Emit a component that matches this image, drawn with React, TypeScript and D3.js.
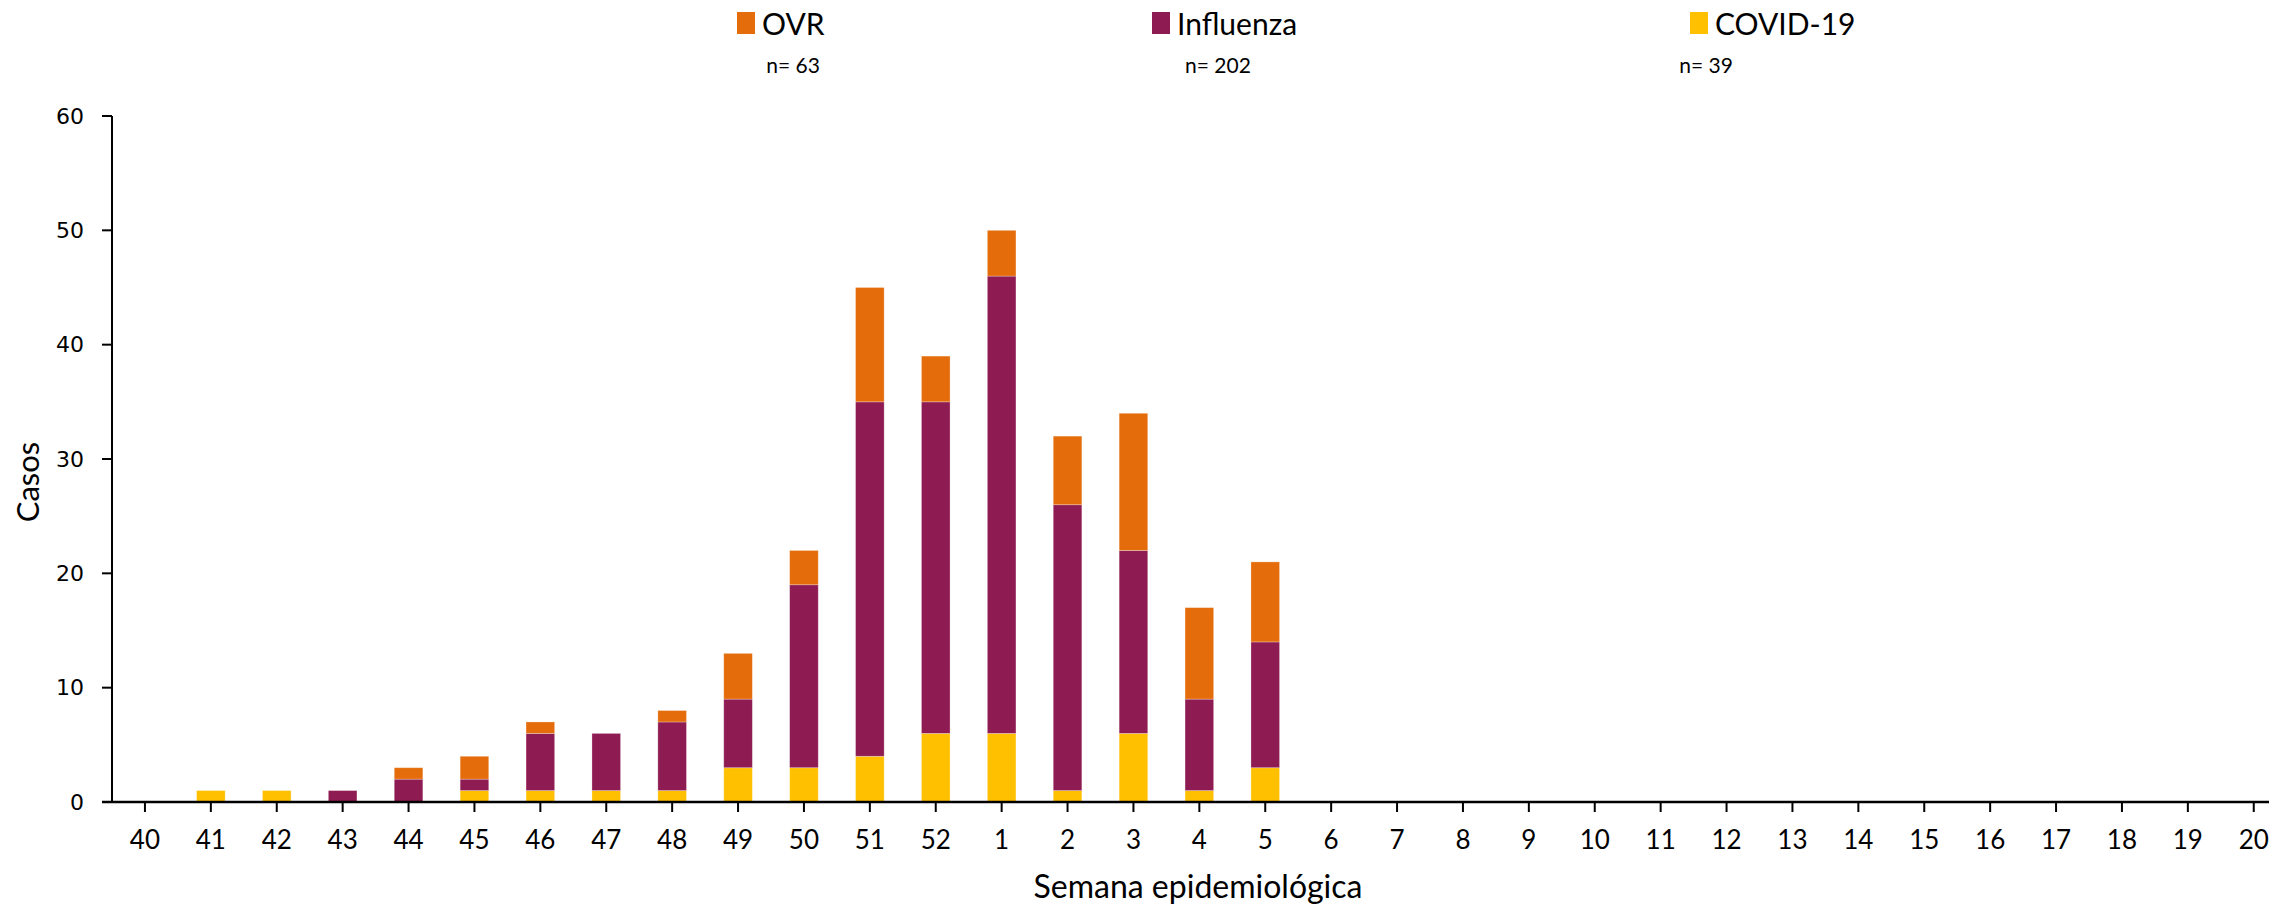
import React from "react";
import * as d3 from "d3";

const weeks = ["40","41","42","43","44","45","46","47","48","49","50","51","52","1","2","3","4","5","6","7","8","9","10","11","12","13","14","15","16","17","18","19","20"];
const covid =     [0,1,1,0,0,1,1,1,1,3,3,4,6,6,1,6,1,3,0,0,0,0,0,0,0,0,0,0,0,0,0,0,0];
const influenza = [0,0,0,1,2,1,5,5,6,6,16,31,29,40,25,16,8,11,0,0,0,0,0,0,0,0,0,0,0,0,0,0,0];
const ovr =       [0,0,0,0,1,2,1,0,1,4,3,10,4,4,6,12,8,7,0,0,0,0,0,0,0,0,0,0,0,0,0,0,0];
const seriesKeys = ["covid", "influenza", "ovr"];
const seriesNames = ["COVID-19", "Influenza", "OVR"];
const seriesColors = ["#FFC000", "#8E1B52", "#E46C0A"];
const yTicks = [0, 10, 20, 30, 40, 50, 60];
const legendOrder = [
  { name: "OVR", n: "n= 63", color: "#E46C0A" },
  { name: "Influenza", n: "n= 202", color: "#8E1B52" },
  { name: "COVID-19", n: "n= 39", color: "#FFC000" },
];

const W = 2269, H = 906;
const left = 112, top = 116, bottom = 802;
const step = 65.9;

export default function App() {
  const x = d3.scaleBand<string>().domain(weeks).range([left, left + step * weeks.length]).paddingInner(0.566).paddingOuter(0.283);
  const y = d3.scaleLinear().domain([0, 60]).range([bottom, top]);
  const rows = weeks.map((w, i) => ({ week: w, covid: covid[i], influenza: influenza[i], ovr: ovr[i] }));
  const stacked = d3.stack<any>().keys(seriesKeys)(rows);
  const legendX = [737, 1152, 1690];
  const nX = [793, 1218, 1706];
  const font = "Lato, 'Open Sans', sans-serif";
  return (
    <svg width={W} height={H} style={{ position: "absolute", left: 0, top: 0, background: "#fff" }} fontFamily={font}>
      {stacked.map((s, si) => (
        <g key={si} fill={seriesColors[si]}>
          {s.map((d, i) => {
            const h = y(d[0]) - y(d[1]);
            if (h <= 0) return null;
            return <rect key={i} x={x(weeks[i])!} y={y(d[1])} width={x.bandwidth()} height={h} stroke="#ffffff" strokeOpacity={0.35} strokeWidth={0.8} />;
          })}
        </g>
      ))}
      {/* y axis */}
      <line x1={left} x2={left} y1={top} y2={bottom} stroke="#000" strokeWidth={2} />
      {yTicks.map((t) => (
        <g key={t}>
          <line x1={left - 10} x2={left} y1={y(t)} y2={y(t)} stroke="#000" strokeWidth={2} />
          <text x={left - 28} y={y(t)} textAnchor="end" dominantBaseline="central" fontFamily="'DejaVu Sans', sans-serif" fontSize={22} fill="#000">{t}</text>
        </g>
      ))}
      {/* x axis */}
      <line x1={left - 10} x2={W} y1={bottom} y2={bottom} stroke="#000" strokeWidth={2.5} />
      {weeks.map((w) => {
        const cx = x(w)! + x.bandwidth() / 2;
        return (
          <g key={w}>
            <line x1={cx} x2={cx} y1={bottom} y2={bottom + 10} stroke="#000" strokeWidth={2} />
            <text x={cx} y={839} textAnchor="middle" dominantBaseline="central" fontSize={26} fill="#000">{w}</text>
          </g>
        );
      })}
      <text x={1198} y={885} textAnchor="middle" dominantBaseline="central" fontSize={32} fill="#000">Semana epidemiológica</text>
      <text transform={`translate(27,482) rotate(-90)`} textAnchor="middle" dominantBaseline="central" fontSize={31} fill="#000">Casos</text>
      {legendOrder.map((l, i) => (
        <g key={l.name}>
          <rect x={legendX[i]} y={12} width={18} height={22} fill={l.color} />
          <text x={legendX[i] + 25} y={23} dominantBaseline="central" fontSize={30} fill="#000">{l.name}</text>
          <text x={nX[i]} y={64} textAnchor="middle" dominantBaseline="central" fontSize={21} fill="#000">{l.n}</text>
        </g>
      ))}
    </svg>
  );
}
